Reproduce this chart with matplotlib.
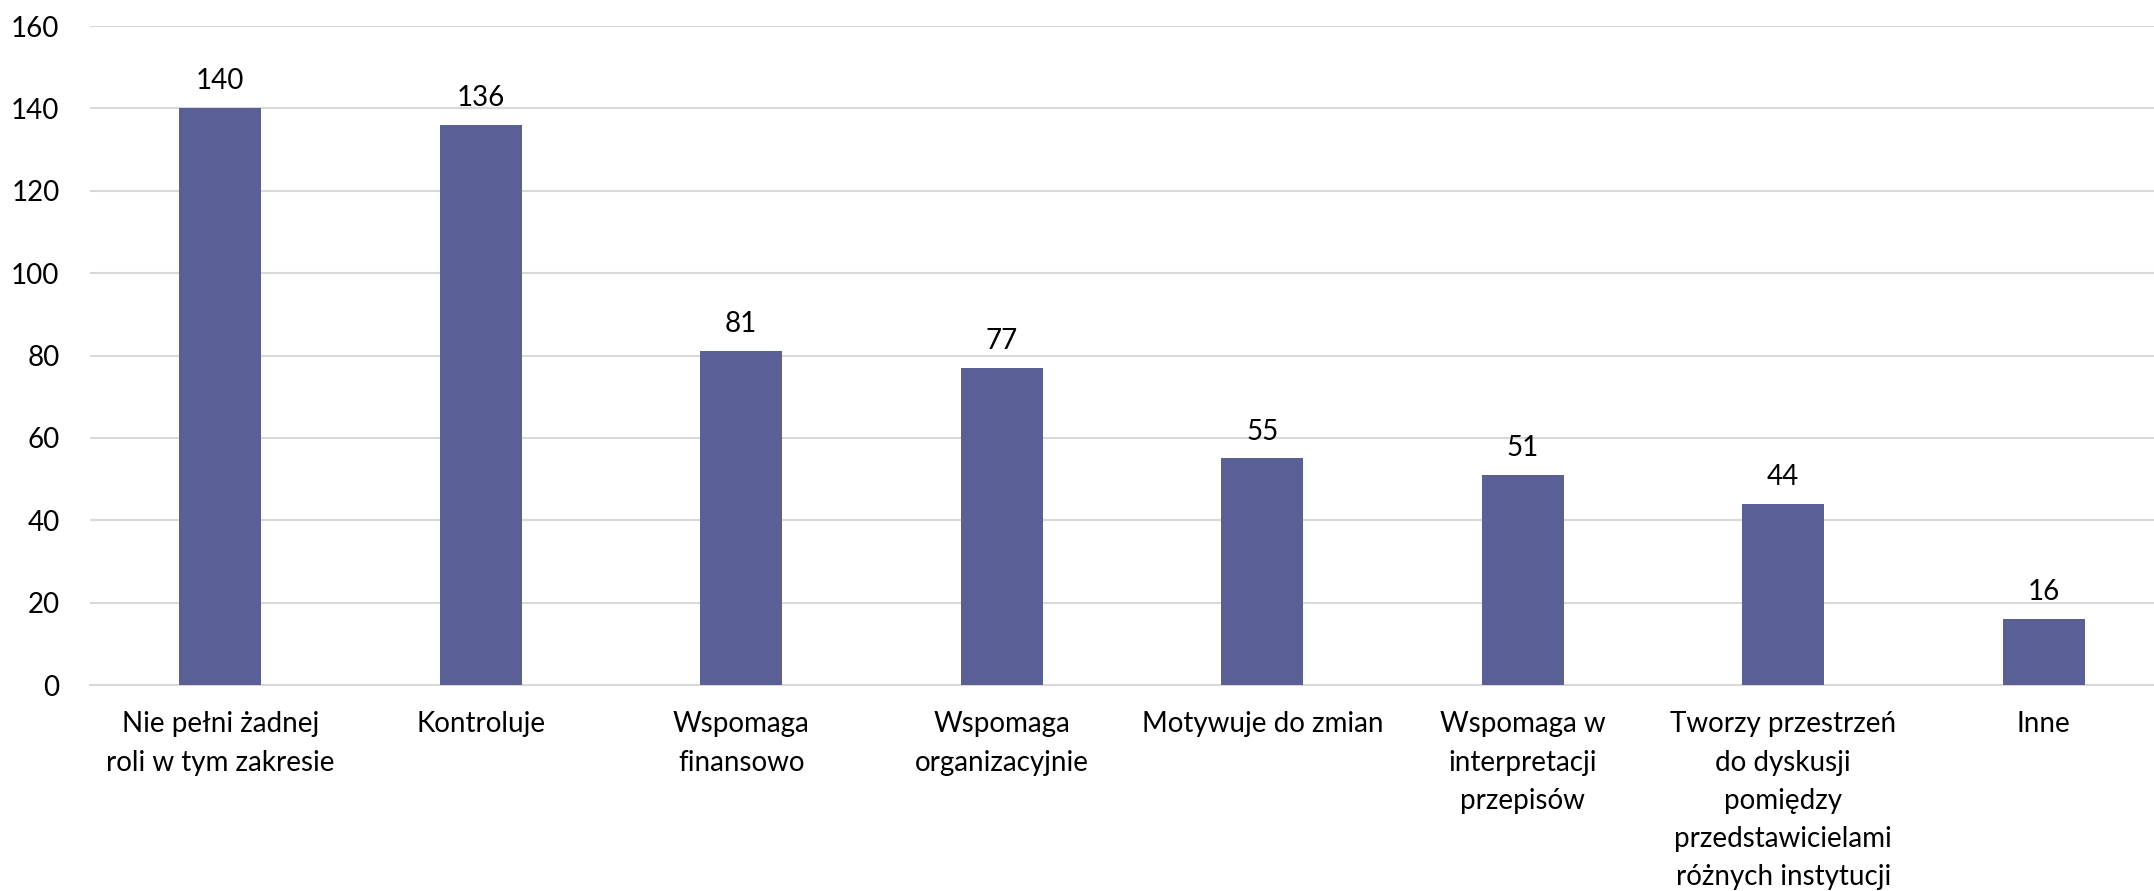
import matplotlib.pyplot as plt
import numpy as np

categories = [
    "Nie pełni żadnej\nroli w tym zakresie",
    "Kontroluje",
    "Wspomaga\nfinansowo",
    "Wspomaga\norganizacyjnie",
    "Motywuje do zmian",
    "Wspomaga w\ninterpretacji\nprzepisów",
    "Tworzy przestrzeń\ndo dyskusji\npomiędzy\nprzedstawicielami\nróżnych instytucji",
    "Inne",
]
values = [140, 136, 81, 77, 55, 51, 44, 16]
yticks = [0, 20, 40, 60, 80, 100, 120, 140, 160]

plt.rcParams["font.family"] = ["Lato", "DejaVu Sans"]

fig = plt.figure(figsize=(21.54, 8.91), dpi=100)
ax = fig.add_axes([90 / 2154, 206 / 891, 2084 / 2154, 659 / 891])

x = np.arange(len(categories))
ax.bar(x, values, width=0.315, color="#5A5F95", zorder=3)

for xi, v in zip(x, values):
    ax.annotate(str(v), (xi, v), xytext=(0, 10), textcoords="offset points",
                ha="center", va="bottom", fontsize=20, color="#000000")

ax.set_xlim(-0.5, len(categories) - 0.5)
ax.set_ylim(0, 160)
ax.set_yticks(yticks)
ax.set_xticks(x)
ax.set_xticklabels(categories, fontsize=20, linespacing=1.58, va="top")
ax.tick_params(axis="y", labelsize=20, length=0, pad=22)
ax.tick_params(axis="x", length=0, pad=19)

ax.grid(axis="y", color="#D9D9D9", linewidth=1.5, zorder=0)
for s in ["top", "right", "left"]:
    ax.spines[s].set_visible(False)
ax.spines["bottom"].set_color("#D9D9D9")
ax.spines["bottom"].set_linewidth(1.5)

fig.savefig("out.png", dpi=100)
